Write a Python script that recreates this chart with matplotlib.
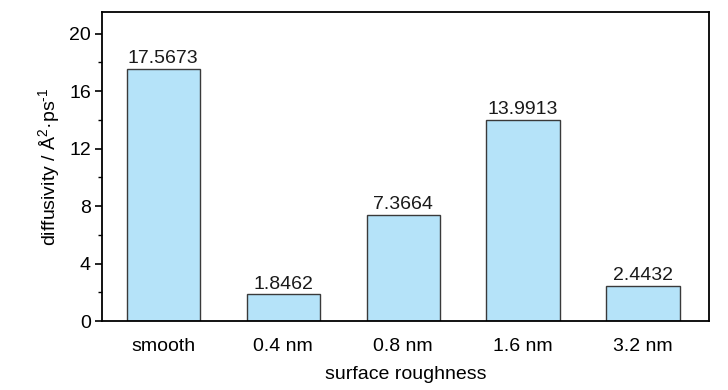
import matplotlib
matplotlib.use("Agg")
import matplotlib.pyplot as plt
from matplotlib.ticker import MultipleLocator

categories = ["smooth", "0.4 nm", "0.8 nm", "1.6 nm", "3.2 nm"]
diffusivity = [17.5673, 1.8462, 7.3664, 13.9913, 2.4432]
value_labels = ["17.5673", "1.8462", "7.3664", "13.9913", "2.4432"]

plt.rcParams["font.family"] = ["Liberation Sans", "DejaVu Sans"]
plt.rcParams["mathtext.fontset"] = "custom"
plt.rcParams["mathtext.rm"] = "Liberation Sans"
plt.rcParams["mathtext.it"] = "Liberation Sans"
plt.rcParams["text.color"] = "#1a1a1a"

fig = plt.figure(figsize=(7.28, 3.9), dpi=100)
ax = fig.add_axes([102 / 728, 1 - 321 / 390, (709 - 102) / 728, (321 - 12) / 390])

x = range(len(categories))
ax.bar(x, diffusivity, width=0.61, color="#b5e3f9", edgecolor="#3a3a3a", linewidth=1.0)

for xi, v, lab in zip(x, diffusivity, value_labels):
    ax.text(xi, v + 0.12, lab, ha="center", va="bottom", fontsize=14)

ax.set_xlim(-0.51, 4.55)
ax.set_ylim(0, 21.5)
ax.set_xticks(list(x))
ax.set_xticklabels(categories, fontsize=14)
ax.tick_params(axis="x", length=0, pad=12)
ax.yaxis.set_major_locator(MultipleLocator(4))
ax.yaxis.set_minor_locator(MultipleLocator(2))
ax.tick_params(axis="y", which="major", length=5, width=1.2, labelsize=14, pad=3)
ax.tick_params(axis="y", which="minor", length=3, width=1.0)
for s in ax.spines.values():
    s.set_linewidth(1.3)

ax.set_xlabel("surface roughness", fontsize=14, labelpad=8)
ax.set_ylabel(r"diffusivity / Å$^{\text{2}}$·ps$^{\text{-1}}$", fontsize=14, labelpad=5)

fig.savefig("out.png", dpi=100)
